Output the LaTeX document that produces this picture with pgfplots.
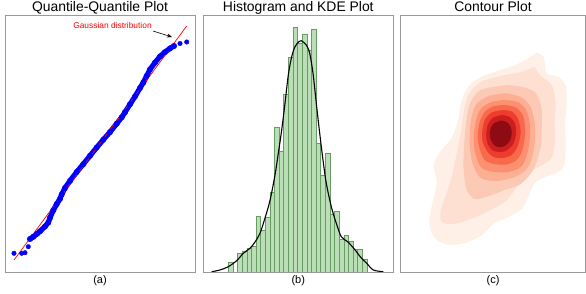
\documentclass[border=0pt]{standalone}
\usepackage{fontspec}
\setmainfont{Liberation Sans}
\usepackage{pgfplots}
\pgfplotsset{compat=1.18}
\usetikzlibrary{arrows.meta}
\definecolor{hfill}{RGB}{186,222,182}
\definecolor{hedge}{RGB}{105,155,100}
\definecolor{cA}{HTML}{FEEFE7}
\definecolor{cB}{HTML}{FDE0D2}
\definecolor{cC}{HTML}{FCCAB4}
\definecolor{cD}{HTML}{FCAF93}
\definecolor{cE}{HTML}{FC9070}
\definecolor{cF}{HTML}{F9694C}
\definecolor{cG}{HTML}{EC3D2E}
\definecolor{cH}{HTML}{CC1E1F}
\definecolor{cI}{HTML}{8E0B14}
\begin{document}
\begin{tikzpicture}[x=1pt,y=1pt]
\pgfplotsset{panel/.style={scale only axis, height=257pt, anchor=south west,
  xtick=\empty, ytick=\empty, ymin=0, ymax=257,
  axis line style={draw=black!40, line width=0.8pt}}}
% ---------- (a) QQ plot
\begin{axis}[panel, at={(5pt,22pt)}, width=190pt, xmin=0, xmax=190]
\addplot[blue, line width=5.2pt, line join=round, line cap=round, mark=*, mark size=2.8pt, mark options={solid, line width=0.3pt}] coordinates {
(25,33) (28.3,35.2) (32,38.2) (35,40.7) (40,45.5) (43.3,49.5) (45,54.3) (48.3,61.8)
(51.7,67.9) (55,73.2) (56.7,77.6) (60,84) (65,91.1) (71.7,100) (78.3,107.9) (85,116.2)
(91.7,124.5) (98.3,132.3) (105,139.9) (111.7,148.3) (116.7,154.7) (120,159.8) (125,167.7)
(130,175.5) (135,184) (138.3,189.4) (141.7,196.1) (145,202.6) (150,209.4) (155,215.5)
(160,219.9) (165,223.6) (169,226)};
\addplot[only marks, blue, mark=*, mark size=2.3pt, mark options={line width=0.3pt}] coordinates {
(9,18.7) (16.7,18.7) (20,19.3) (23.3,25.3) (175,228.5) (181.7,230)};
\addplot[red, line width=0.7pt] coordinates {(9,12) (181.7,246)};
\end{axis}
% ---------- (b) histogram + KDE
\begin{axis}[panel, at={(203pt,22pt)}, width=190.5pt, xmin=0, xmax=190.5]
\addplot[ybar, bar width=4.62, fill=hfill, draw=hedge, line width=0.5pt] coordinates {
(27.61,9.3) (36.85,18.3) (41.47,21) (46.09,23.5) (50.71,25.5) (55.33,55.7)
(59.95,42) (64.57,55) (69.19,79.3) (73.81,144.3) (78.43,121) (83.05,177.7)
(87.67,214.7) (92.29,244.7) (96.91,229) (101.53,238) (106.15,222) (110.77,242.7)
(115.39,128.7) (120.01,97) (124.63,118.3) (129.25,58) (133.87,60.5) (138.49,32.5)
(143.11,36.5) (147.73,31) (152.35,23) (156.97,23) (161.59,13)};
\addplot[black, line width=1.1pt, smooth] coordinates {
(8.7,0.3) (17,2) (25.3,5.3) (33.7,11.3) (40.3,18.7) (47,23.7) (52,30) (57,38.7)
(62,54) (67,71.5) (72,97) (75.3,118.7) (78.7,142) (82,168.7) (85.3,197) (88.7,215.3)
(92,225.3) (96,230.5) (98.3,231.3) (103.3,227) (106.7,218.7) (110,198.7) (113.3,168.7)
(116.7,138.7) (120,112) (123.3,88.7) (128.3,65.3) (133.3,48.7) (138.3,35.3) (145,30)
(151.7,22.5) (158.3,14) (163.7,8.7) (170.3,2) (180.3,0.3)};
\end{axis}
% ---------- (c) contour
\begin{axis}[panel, at={(400.7pt,22pt)}, width=184.8pt, xmin=0, xmax=184.8]
\addplot[fill=cA, draw=none, smooth] coordinates {
(136,219.3) (143,215) (146,199) (158,195) (165,186) (166,170) (164.5,150) (165,125)
(164,108) (158,100) (146,95.5) (134,89) (127,74) (121,63) (106,54) (94,49) (80,36)
(62,28.5) (46,27.5) (34,34) (28.7,48) (31,66) (36,90) (33,107) (40,121) (51,134)
(57,150) (61,172) (68,186) (80,195) (100,202) (118,208.5) (130,215.5) (136,219.3)};
\addplot[fill=cB, draw=none, smooth] coordinates {
(134,205) (140,196) (151,187) (155,170) (154,150) (154,128) (150,113) (138,105)
(124,96) (114,82) (104,70) (88,61) (70,53) (52,48) (41,50) (40,62) (47,82) (52,100)
(56,118) (60,138) (63,160) (68,178) (80,190) (100,196) (120,200) (134,205)};
\addplot[fill=cC, draw=none, smooth] coordinates {
(106,187) (122,185) (135,179) (141,163) (141,145) (140,125) (133,103) (120,88)
(104,82) (88,76) (74,73) (66,82) (63,100) (63,120) (65,145) (69,168) (80,182) (106,187)};
\addplot[fill=cD, draw=none, smooth] coordinates {
(105,178.7) (120,175) (130,165) (134.5,145) (133,122) (127,104) (114,95) (96,91)
(80,94) (72,108) (69,128) (70,150) (75,167) (88,176) (105,178.7)};
\addplot[fill=cE, draw=none, smooth] coordinates {
(104,172) (117,170) (126,161) (129.5,142) (127,120) (121,106) (108,100) (94,100)
(81,104) (75,117) (73,132) (75,150) (80,163) (91,170) (104,172)};
\addplot[fill=cF, draw=none, smooth] coordinates {
(103,167) (114,165) (122,157) (124.5,141) (122,123) (116,112) (106,107.5) (94,108)
(84,112) (79,123) (77,135) (79,150) (84,160) (92,165.5) (103,167)};
\addplot[fill=cG, draw=none, smooth] coordinates {
(102,162) (111,160.5) (117,154) (120,140) (117,126) (111,117) (102,114) (93,115)
(87,120) (82,130) (81.5,140) (84,152) (91,159.5) (102,162)};
\addplot[fill=cH, draw=none, smooth] coordinates {
(101,157) (109,155) (114,149) (115.5,139) (112.5,128) (106,121.5) (99,120) (92,121.5)
(87.5,127) (85.5,136) (87,147) (92,154) (101,157)};
\addplot[fill=cI, draw=none, smooth] coordinates {
(100,151.5) (106,150) (110,145) (111,138) (108.5,130) (103,125.5) (97,125) (92.5,128)
(89.5,134) (89.5,142) (93,148.5) (100,151.5)};
\end{axis}
% ---------- texts
\node[font=\fontsize{13.9}{14}\selectfont, anchor=base] at (100,282.6) {Quantile-Quantile Plot};
\node[font=\fontsize{13.9}{14}\selectfont, anchor=base] at (298.3,282.6) {Histogram and KDE Plot};
\node[font=\fontsize{13.9}{14}\selectfont, anchor=base] at (493,282.6) {Contour Plot};
\node[font=\fontsize{11}{12}\selectfont, anchor=base] at (100,10.5) {(a)};
\node[font=\fontsize{11}{12}\selectfont, anchor=base] at (298.3,10.5) {(b)};
\node[font=\fontsize{11}{12}\selectfont, anchor=base] at (493,10.5) {(c)};
\node[font=\fontsize{8.4}{9}\selectfont, text=red, anchor=base] at (112.5,265.8) {Gaussian distribution};
\draw[-{Stealth[length=5pt,width=4pt]}, line width=0.6pt] (153,263) -- (172,257);
\pgfresetboundingbox
\path[use as bounding box] (0,0) rectangle (586,294);
\end{tikzpicture}
\end{document}
